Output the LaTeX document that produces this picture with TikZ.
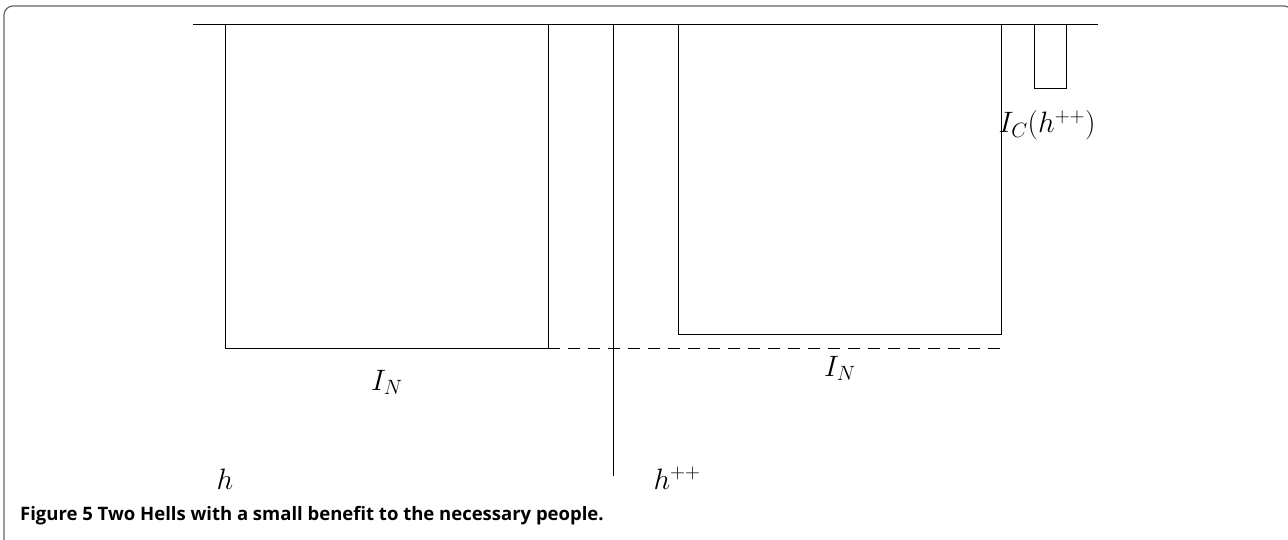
\documentclass[tikz,border=0pt]{standalone}
\usepackage{fix-cm}
\usepackage{fontspec}
\newfontfamily\capfont{Open Sans}
\begin{document}
\begin{tikzpicture}[x=1pt,y=-1pt,
  ln/.style={line width=1pt, black},
  frame/.style={line width=1.2pt, black!60},
  lbl/.style={inner sep=0pt, anchor=base, font=\fontsize{29.5}{32}\selectfont},
  captext/.style={inner sep=0pt, anchor=base west, font=\capfont\fontsize{18.5}{22}\selectfont\bfseries}]
\useasboundingbox (0,0) rectangle (1288,540);
% frame
\draw[frame, rounded corners=9pt] (4,560) -- (4,6) -- (1293,6) -- (1293,560);
% coordinates
\coordinate (tl) at (193,25);
\coordinate (tr) at (1098,25);
\coordinate (vt) at (613,25);
\coordinate (vb) at (613,476);
\coordinate (dl) at (548,348);
\coordinate (dr) at (1001,348);
% top line and vertical line
\draw[ln] (tl) -- (tr);
\draw[ln] (vt) -- (vb);
% boxes
\draw[ln] (225,25) coordinate (lbA) -- (225,348) -- (548,348) -- (548,25);
\draw[ln] (678,25) coordinate (rbA) -- (678,334) -- (1001,334) -- (1001,25);
\draw[ln] (1034,25) coordinate (sbA) -- (1034,89) -- (1066,89) -- (1066,25);
% dashed
\draw[ln, dash pattern=on 12pt off 8pt] (dl) -- (dr);
% labels
\node[lbl] (in1) at (387,390) {$I_N$};
\node[lbl] (in2) at (840,376) {$I_N$};
\node[lbl] (ic) at (1047,133) {$I_C(h^{++})$};
\node[lbl] (h) at (225,489) {$h$};
\node[lbl] (hpp) at (677,489) {$h^{++}$};
\node[captext] (caption) at (20,520) {Figure 5 Two Hells with a small benefit to the necessary people.};
\end{tikzpicture}
\end{document}
